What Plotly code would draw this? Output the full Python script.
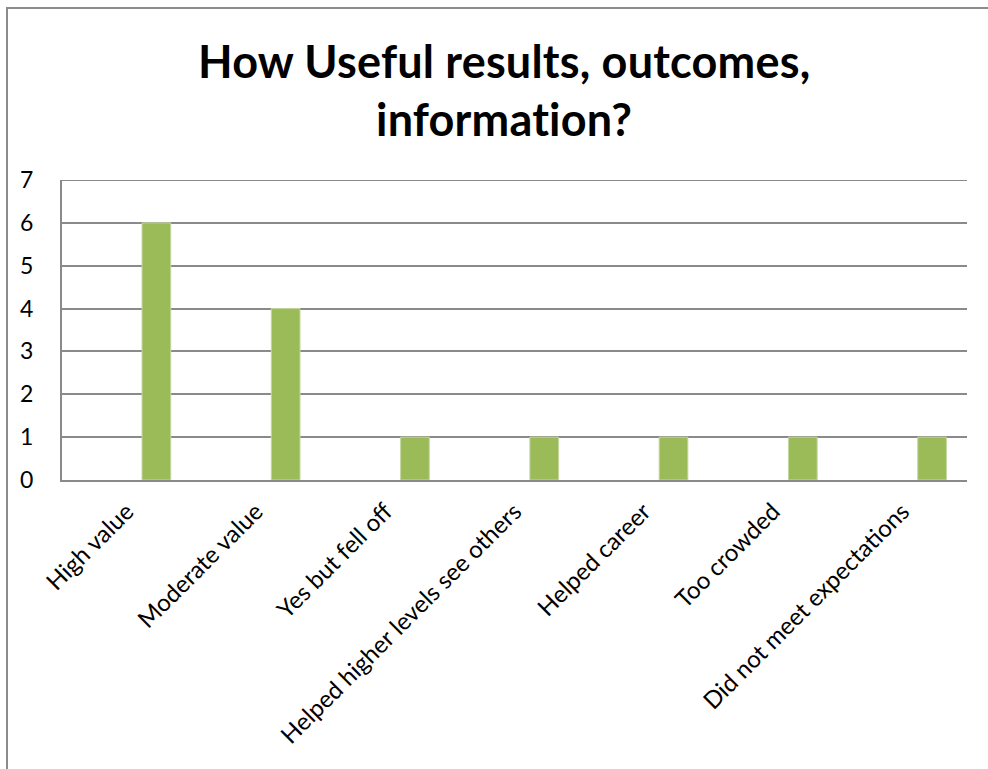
import plotly.graph_objects as go

# Survey responses
categories = [
    "High value",
    "Moderate value",
    "Yes but fell off",
    "Helped higher levels see others",
    "Helped career",
    "Too crowded",
    "Did not meet expectations",
]
counts = [6, 4, 1, 1, 1, 1, 1]
y_ticks = [0, 1, 2, 3, 4, 5, 6, 7]

title_line1 = "How Useful results, outcomes,"
title_line2 = "information?"

FONT = "Lato"
GRID = "#8a8a8a"
BAR = "#9BBB59"

W, H = 988, 769
L, R, T, B = 62, 21, 180, 289
plot_w = W - L - R
plot_h = H - T - B


def px_to_paper_x(px):
    return (px - L) / plot_w


def px_to_paper_y(py):
    return (H - B - py) / plot_h


x_pos = list(range(len(categories)))

fig = go.Figure()
fig.add_trace(go.Bar(
    x=x_pos,
    y=counts,
    width=0.222,
    offset=0.119,
    marker=dict(color=BAR, line=dict(color="#c4d7a0", width=1)),
    hoverinfo="x+y",
))

fig.update_layout(
    width=W,
    height=H,
    margin=dict(l=L, r=R, t=T, b=B),
    paper_bgcolor="white",
    plot_bgcolor="white",
    showlegend=False,
    font=dict(family=FONT, color="black"),
    xaxis=dict(
        range=[-0.5, len(categories) - 0.5],
        tickmode="array",
        tickvals=x_pos,
        ticktext=categories,
        tickangle=-45,
        tickfont=dict(size=24, family=FONT),
        showgrid=False,
        showline=True,
        linecolor=GRID,
        linewidth=2,
        ticks="",
        ticklabelstandoff=6,
        zeroline=False,
    ),
    yaxis=dict(
        range=[y_ticks[0], y_ticks[-1]],
        tickmode="array",
        tickvals=y_ticks,
        tickfont=dict(size=23, family=FONT),
        showgrid=True,
        gridcolor=GRID,
        gridwidth=2,
        showline=True,
        linecolor=GRID,
        linewidth=2,
        ticks="",
        ticklabelstandoff=22,
        zeroline=False,
    ),
)

# top gridline at the end of the value range
fig.add_shape(
    type="line",
    xref="paper", yref="y",
    x0=0, x1=1, y0=y_ticks[-1], y1=y_ticks[-1],
    line=dict(color=GRID, width=2),
    layer="below",
)

# chart frame
fig.add_shape(
    type="rect",
    xref="paper", yref="paper",
    x0=px_to_paper_x(7), x1=px_to_paper_x(W + 20),
    y0=px_to_paper_y(H + 20), y1=px_to_paper_y(8),
    line=dict(color="#8c8c8c", width=2),
    fillcolor="rgba(0,0,0,0)",
    layer="below",
)

# title lines; slight letter spacing keeps the font from joining "ti"
for text, cy in [(title_line1, 61), (title_line2, 119)]:
    fig.add_annotation(
        text=f'<b><span style="letter-spacing:0.2px">{text}</span></b>',
        xref="paper", yref="paper",
        x=px_to_paper_x(504), y=px_to_paper_y(cy),
        xanchor="center", yanchor="middle",
        showarrow=False,
        font=dict(size=45, family=FONT, color="black"),
    )

fig.write_html("out.html")
